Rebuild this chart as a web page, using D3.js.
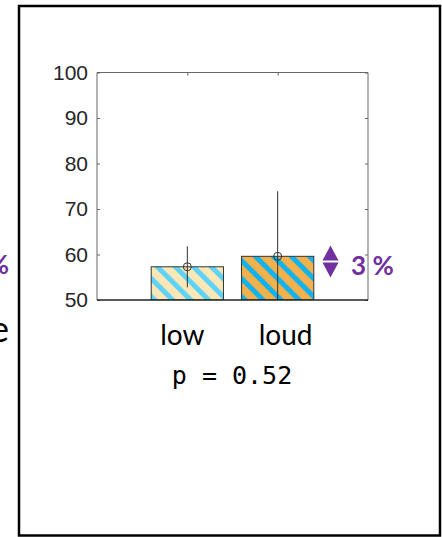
<!DOCTYPE html>
<html>
<head>
<meta charset="utf-8">
<script src="https://cdn.jsdelivr.net/npm/d3@7"></script>
<style>
  html, body { margin: 0; padding: 0; background: #fff; }
  svg { display: block; }
</style>
</head>
<body>
<svg id="chart" width="442" height="537"></svg>
<script>
// ---- data ----
const categories = ["low", "loud"];
const means = [57.3, 59.6];
const errors = [4.5, 14.3];
const yTicks = [50, 60, 70, 80, 90, 100];
const xTicks = [1, 2];
const pLabel = "p = 0.52";
const diffLabel = "3 %";
const barBase = ["#FCE7B6", "#F4B04A"];
const barStripe = ["#5ED3F7", "#10B3EE"];

(function () {
// ---- layout ----
const svg = d3.select("#chart");
const plot = { left: 97, right: 368, top: 72.5, bottom: 300 };
const x = d3.scaleLinear().domain([0, 3]).range([plot.left, plot.right]);
const y = d3.scaleLinear().domain([50, 100]).range([plot.bottom, plot.top]);
const barW = (x(1) - x(0)) * 0.8;
const labelShift = [-5, 8];

const defs = svg.append("defs");
defs.append("clipPath").attr("id", "plotclip")
  .append("rect").attr("x", plot.left).attr("y", plot.top)
  .attr("width", plot.right - plot.left).attr("height", plot.bottom - plot.top);

categories.forEach((c, i) => {
  const p = defs.append("pattern")
    .attr("id", "hatch" + i)
    .attr("patternUnits", "userSpaceOnUse")
    .attr("width", 12.73).attr("height", 12.73)
    .attr("x", x(i + 1) - barW / 2)
    .attr("patternTransform", "rotate(-45 " + (x(i + 1) - barW / 2) + " " + plot.bottom + ")");
  p.append("rect").attr("width", 12.73).attr("height", 12.73).attr("fill", barBase[i]);
  p.append("rect").attr("x", 0).attr("width", 5).attr("height", 12.73).attr("fill", barStripe[i]);
});

// outer frame
svg.append("rect").attr("x", 19).attr("y", 6).attr("width", 421).attr("height", 529.5)
  .attr("fill", "none").attr("stroke", "#000").attr("stroke-width", 2.5);

// left cut-off fragments from neighbouring panel (cut off in the reference too)
svg.append("text").attr("x", 9).attr("y", 274).attr("text-anchor", "end")
  .attr("font-family", "Lato, 'Open Sans', sans-serif").attr("font-weight", "bold")
  .attr("font-size", 26).attr("fill", "#7030A0").text("%");
svg.append("text").attr("x", 9).attr("y", 342).attr("text-anchor", "end")
  .attr("font-family", "Lato, 'Open Sans', sans-serif")
  .attr("font-size", 36).attr("fill", "#000").text("e");

// bars
const g = svg.append("g").attr("clip-path", "url(#plotclip)");
g.selectAll("rect.bar").data(means).join("rect")
  .attr("class", "bar")
  .attr("x", (d, i) => x(i + 1) - barW / 2)
  .attr("y", d => y(d))
  .attr("width", barW)
  .attr("height", d => y(50) - y(d))
  .attr("fill", (d, i) => "url(#hatch" + i + ")")
  .attr("stroke", "#333").attr("stroke-width", 1);

// error bars
g.selectAll("line.err").data(means).join("line")
  .attr("class", "err")
  .attr("x1", (d, i) => x(i + 1)).attr("x2", (d, i) => x(i + 1))
  .attr("y1", (d, i) => y(d - errors[i])).attr("y2", (d, i) => y(d + errors[i]))
  .attr("stroke", "#333").attr("stroke-width", 1);
g.selectAll("circle.mk").data(means).join("circle")
  .attr("class", "mk")
  .attr("cx", (d, i) => x(i + 1)).attr("cy", d => y(d)).attr("r", 4)
  .attr("fill", "none").attr("stroke", "#333").attr("stroke-width", 1);

// axes (box with inward ticks)
const axisColor = "#666";
const tickLen = 3;
const axLeft = svg.append("g").attr("transform", `translate(${plot.left},0)`)
  .call(d3.axisLeft(y).tickValues(yTicks).tickSize(-tickLen).tickPadding(9));
const axRight = svg.append("g").attr("transform", `translate(${plot.right},0)`)
  .call(d3.axisRight(y).tickValues(yTicks).tickSize(-tickLen).tickFormat(""));
const axTop = svg.append("g").attr("transform", `translate(0,${plot.top})`)
  .call(d3.axisTop(x).tickValues(xTicks).tickSize(-tickLen).tickFormat(""));
[axLeft, axRight, axTop].forEach(a => {
  a.select(".domain").attr("stroke", axisColor).attr("stroke-width", 1)
    .attr("d", a === axTop ? `M${plot.left},0H${plot.right}` : `M0,${plot.top}V${plot.bottom}`);
  a.selectAll(".tick line").attr("stroke", axisColor);
});
axLeft.selectAll(".tick text")
  .attr("font-family", "'Liberation Sans', Arial, sans-serif")
  .attr("font-size", 21).attr("fill", "#262626");

// baseline
svg.append("line").attr("x1", plot.left).attr("x2", plot.right)
  .attr("y1", y(50)).attr("y2", y(50))
  .attr("stroke", "#222").attr("stroke-width", 1.3);

// category labels
svg.selectAll("text.cat").data(categories).join("text")
  .attr("class", "cat")
  .attr("x", (d, i) => x(i + 1) + labelShift[i])
  .attr("y", 345)
  .attr("text-anchor", "middle")
  .attr("font-family", "Lato, 'Open Sans', sans-serif")
  .attr("font-size", 28).attr("fill", "#000")
  .text(d => d);

// p value
svg.append("text").attr("x", 232).attr("y", 384).attr("text-anchor", "middle")
  .attr("font-family", "'DejaVu Sans Mono', monospace")
  .attr("font-size", 25).attr("fill", "#000").text(pLabel);

// difference arrow + label
const ax = 330.5;
const yMid = (y(means[0]) + y(means[1])) / 2;
svg.append("path")
  .attr("d", `M${ax},${yMid - 16}L${ax + 8},${yMid - 1}L${ax - 8},${yMid - 1}Z`)
  .attr("fill", "#7030A0");
svg.append("path")
  .attr("d", `M${ax},${yMid + 16}L${ax + 8},${yMid + 1}L${ax - 8},${yMid + 1}Z`)
  .attr("fill", "#7030A0");
svg.append("text").attr("x", 351).attr("y", 275)
  .attr("font-family", "Lato, 'Open Sans', sans-serif").attr("font-weight", "bold")
  .attr("font-size", 26).attr("fill", "#7030A0").text(diffLabel);
})();
</script>
</body>
</html>
